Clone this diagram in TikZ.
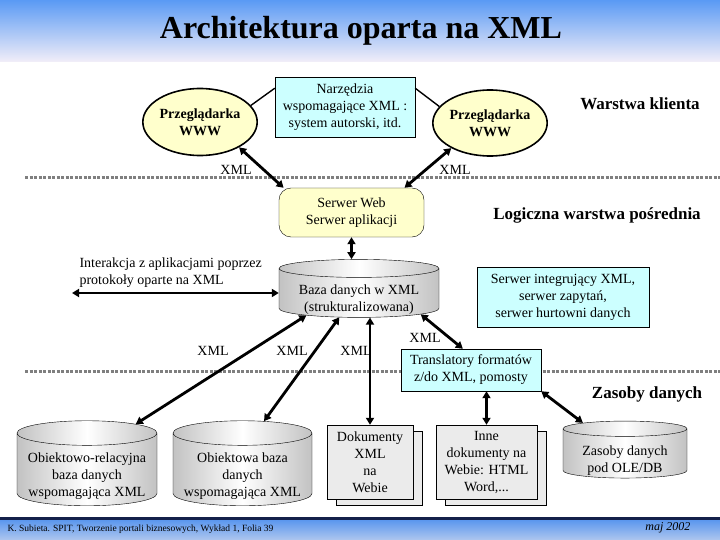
\documentclass[tikz,border=0pt]{standalone}
\usepackage{fontspec}
\setmainfont{Liberation Serif}
\usetikzlibrary{shapes.geometric,arrows.meta,shadows,positioning}

\definecolor{bandblue}{HTML}{5A9AF4}
\definecolor{bandpale}{HTML}{F2EEF8}
\definecolor{footnavy}{HTML}{14204A}
\definecolor{footblue}{HTML}{5B97EE}
\definecolor{footpale}{HTML}{AEC6EE}
\definecolor{paleyellow}{HTML}{FFFFCC}
\definecolor{palecyan}{HTML}{CCFFFF}
\definecolor{drumgray}{HTML}{C2C2C2}
\definecolor{sheetgray}{HTML}{EBEBEB}
\definecolor{sepgray}{HTML}{7F7F7F}

\tikzset{
  txt/.style={font=\fontsize{14}{17}\selectfont, align=center},
  browser/.style={ellipse, draw, line width=1.6pt, fill=paleyellow, inner sep=0pt,
    font=\fontsize{14}{17}\selectfont\bfseries, align=center},
  infobox/.style={rectangle, draw, fill=palecyan, inner sep=0pt, txt},
  drum/.style={cylinder, shape border rotate=90, draw, inner sep=0pt, txt,
    left color=drumgray, right color=drumgray, middle color=white},
  % text of a drum sits below its top face
  drumtext/.style={label={[txt, yshift=-7pt]center:#1}},
  sheet/.style={rectangle, draw, fill=sheetgray, inner sep=0pt, txt,
    copy shadow={shadow xshift=9pt, shadow yshift=-6pt}},
  layer/.style={font=\fontsize{17}{20}\selectfont\bfseries},
  xmltag/.style={font=\fontsize{14}{17}\selectfont},
  dataflow/.style={line width=2.8pt,
    arrows={Triangle[length=7pt,width=8pt]-Triangle[length=7pt,width=8pt]}},
  separator/.style={sepgray, line width=3pt, dash pattern=on 3pt off 1.5pt}
}

\begin{document}
\begin{tikzpicture}[x=1pt,y=-1pt]
    \useasboundingbox (0,0) rectangle (720,540);

    % Title band
    \shade[top color=bandblue, bottom color=bandpale] (0,0) rectangle (720,62);
    \node[font=\fontsize{32}{36}\selectfont\bfseries] (title) at (361,31) {Architektura oparta na XML};

    % Layer separators
    \draw[separator] (25,178) -- (720,178);
    \draw[separator] (25,371) -- (720,371);

    % Client layer
    \node[browser, minimum width=105pt, minimum height=67pt] (browserL) at (200,122) {Przeglądarka\\WWW};
    \node[browser, minimum width=105pt, minimum height=66pt] (browserR) at (490,123) {Przeglądarka\\WWW};
    \node[infobox, minimum width=140pt, minimum height=60pt] (tools) at (345,107)
        {Narzędzia\\wspomagające XML :\\system autorski, itd.};
    \draw[line width=1.4pt] (browserL.18) -- (tools.165);
    \draw[line width=1.4pt] (tools.15) -- (browserR.162);
    \node[layer] (client) at (640,104) {Warstwa klienta};

    % Middle layer
    \node[rectangle, draw, rounded corners=12pt, fill=paleyellow, inner sep=0pt, txt,
        minimum width=145pt, minimum height=49pt] (web) at (351.5,212.5) {Serwer Web\\Serwer aplikacji};
    \node[layer] (middle) at (597,215) {Logiczna warstwa pośrednia};
    \draw[dataflow] (browserL.-33) -- (web.160);
    \draw[dataflow] (browserR.-147) -- (web.25);
    \node[xmltag] (xmlL) at (236,170) {XML};
    \node[xmltag] (xmlR) at (455,170) {XML};

    \node[drum, aspect=0.15, minimum width=160pt, minimum height=58pt,
        drumtext={Baza danych w XML\\(strukturalizowana)}] (dbxml) at (359,293)
        {\phantom{Baza danych w XML}};
    \draw[dataflow] (web.south) -- (web.south |- dbxml.north);

    \node[txt, align=left, anchor=west] (apps) at (76,273)
        {Interakcja z aplikacjami poprzez\\protokoły oparte na XML};
    \coordinate (appsEnd) at (72,293);
    \draw[dataflow] (appsEnd) -- (dbxml.180);

    \node[infobox, minimum width=172pt, minimum height=60pt] (integ) at (563,297)
        {Serwer integrujący XML,\\serwer zapytań,\\serwer hurtowni danych};
    \node[infobox, minimum width=140pt, minimum height=42pt] (transl) at (471,370)
        {Translatory formatów\\z/do XML, pomosty};

    % Data resources
    \node[layer] (resources) at (647,394) {Zasoby danych};
    \node[drum, aspect=0.21, minimum width=140pt, minimum height=85pt,
        drumtext={Obiektowo-relacyjna\\baza danych\\wspomagająca XML}] (objrel) at (87,469.5)
        {\phantom{wspomagająca XML}};
    \node[drum, aspect=0.21, minimum width=139pt, minimum height=85pt,
        drumtext={Obiektowa baza\\danych\\wspomagająca XML}] (objdb) at (242.5,469.5)
        {\phantom{wspomagająca XML}};
    \node[sheet, minimum width=86pt, minimum height=74pt] (docxml) at (370,462)
        {Dokumenty\\XML\\na\\Webie};
    \node[sheet, minimum width=101pt, minimum height=74pt] (docother) at (486.5,462)
        {Inne\\dokumenty na\\Webie: HTML\\Word,...};
    \node[drum, aspect=0.18, minimum width=124pt, minimum height=57pt,
        drumtext={Zasoby danych\\pod OLE/DB}] (oledb) at (625,453.5)
        {\phantom{Zasoby danych}};

    \draw[dataflow] (dbxml.-157) -- (objrel.43);
    \draw[dataflow] (dbxml.-129) -- (objdb.66);
    \draw[dataflow] (docxml.north |- dbxml.south) -- (docxml.north);
    \draw[dataflow] (dbxml.-19) -- (transl.111);
    \draw[dataflow] (transl.south -| docother.north) -- (docother.north);
    \draw[dataflow] (transl.south east) -- (oledb.144);
    \node[xmltag] (xmlA) at (213,351) {XML};
    \node[xmltag] (xmlB) at (292,351) {XML};
    \node[xmltag] (xmlC) at (356,351) {XML};
    \node[xmltag] (xmlD) at (425,338) {XML};

    % Footer
    \fill[footnavy] (0,517) rectangle (720,520);
    \shade[top color=footblue, bottom color=footpale] (0,520) rectangle (720,540);
    \node[anchor=west, font=\fontsize{9.5}{11}\selectfont] (credit) at (4,529)
        {K. Subieta. SPIT, Tworzenie portali biznesowych, Wykład 1, Folia 39};
    \node[anchor=east, font=\fontsize{12}{14}\selectfont\itshape] (date) at (694,528) {maj 2002};
\end{tikzpicture}
\end{document}
